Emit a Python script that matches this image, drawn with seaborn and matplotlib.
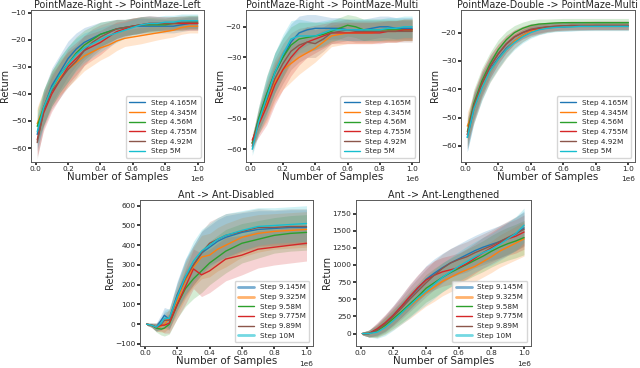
import numpy as np
import pandas as pd
import matplotlib
matplotlib.use("Agg")
import matplotlib.pyplot as plt
import seaborn as sns

# --- data (x in units of 1e6 samples) ---
X_PM = [0.01, 0.05, 0.1, 0.15, 0.2, 0.25, 0.3, 0.35, 0.4, 0.45, 0.5,
        0.55, 0.6, 0.65, 0.7, 0.75, 0.8, 0.85, 0.9, 0.95, 1.0]
X_AD = [0.01, 0.04, 0.07, 0.1, 0.12, 0.15, 0.2, 0.25, 0.3, 0.35, 0.4,
        0.45, 0.5, 0.6, 0.7, 0.8, 0.9, 1.0]

PM_LABELS = ["Step 4.165M", "Step 4.345M", "Step 4.56M", "Step 4.755M", "Step 4.92M", "Step 5M"]
ANT_LABELS = ["Step 9.145M", "Step 9.325M", "Step 9.58M", "Step 9.775M", "Step 9.89M", "Step 10M"]

# PointMaze-Right -> PointMaze-Left
rl_blue = [-55, -45, -37, -32, -27, -23.5, -21, -19.5, -18, -17, -16, -15.5, -15, -15, -15, -15, -15, -15, -14.5, -14, -14]
rl_orange = [-51, -45, -38, -34, -31, -28.5, -26, -24.5, -23, -22, -20.5, -19.5, -19, -18.5, -18, -17.5, -17, -16.5, -15.5, -15, -15]
rl_green = [-52, -45, -38, -33, -29, -25, -22, -20, -18, -17, -16, -15.5, -15, -14.5, -14.5, -14.5, -14.5, -14, -14, -13.5, -13.5]
rl_red = [-57, -47, -40, -35, -30, -27, -24, -22.5, -21, -19, -17, -16, -15, -14.5, -14, -14, -14, -14, -14, -14, -14]
rl_brown = [-58, -46, -39, -35, -31, -28, -24, -21, -19, -17.5, -16, -15.5, -15, -14.5, -14, -14, -14, -14, -13.5, -13.5, -13.5]
rl_cyan = [-54, -45, -38, -33, -29, -25.5, -23, -21.5, -20, -18.5, -17.5, -16.5, -15.5, -14.5, -14, -14, -13.5, -13.5, -13, -13, -13]
rl_std = [6, 6.5, 6.5, 6.5, 6.5, 6, 5.5, 5, 4.5, 4, 3.5, 3, 3, 3, 2.8, 2.6, 2.5, 2.5, 2.5, 2.5, 2.5]

# PointMaze-Right -> PointMaze-Multi
rm_blue = [-58, -50, -42, -35, -30, -25, -22, -21, -20.5, -20.5, -20.5, -20.5, -21, -21, -21, -20.5, -20, -20, -20.5, -20.5, -20.5]
rm_orange = [-58, -51, -45, -38, -34, -32, -30, -28.5, -27, -25, -23, -22.5, -22, -22, -22, -22, -21.5, -21.5, -21.5, -21, -21]
rm_green = [-58, -50, -42, -35, -30, -26, -24, -23.5, -23, -22.5, -21.5, -20.5, -19.5, -20, -21, -21, -21, -21, -21, -21, -21]
rm_red = [-57, -52, -46, -39, -34, -30, -27, -25, -24, -23, -22, -22, -22, -22, -22, -22, -22, -21.5, -21.5, -21, -21]
rm_brown = [-59, -51, -44, -37, -32, -28, -26, -25, -25.5, -24, -22, -21.5, -21, -21.5, -21.5, -21.5, -21.5, -21.5, -21.5, -21.5, -21.5]
rm_cyan = [-60, -51, -43, -35, -29, -24, -23, -23, -23, -22, -21, -21, -21, -21, -21, -21, -21, -20.5, -20.5, -20, -20]
rm_std = [2, 4, 6, 6.5, 6.5, 6, 5.5, 5, 4.5, 4, 3.5, 3.5, 3.5, 3.5, 3.5, 3.5, 3.5, 3.5, 3.5, 3.5, 3.5]

# PointMaze-Double -> PointMaze-Multi
dm_blue = [-57, -47, -39, -33, -29, -25.5, -23, -21, -19.5, -18.8, -18.3, -18, -18, -17.8, -17.7, -17.6, -17.5, -17.5, -17.5, -17.5, -17.5]
dm_orange = [-53, -47, -39, -33.5, -29.5, -26, -23, -21, -19.5, -18.8, -18.3, -18, -17.8, -17.7, -17.6, -17.5, -17.5, -17.5, -17.5, -17.5, -17.5]
dm_green = [-55, -45, -37, -31, -26, -22.5, -20, -18.5, -17.5, -17, -16.8, -16.6, -16.5, -16.5, -16.5, -16.5, -16.5, -16.5, -16.5, -16.5, -16.5]
dm_red = [-56, -46, -38, -32, -27.5, -24, -21.5, -20, -19, -18.5, -18, -17.8, -17.6, -17.5, -17.5, -17.5, -17.5, -17.5, -17.5, -17.5, -17.5]
dm_brown = [-56, -46, -38, -32, -27.5, -24, -21.5, -20, -18.8, -18.3, -18, -17.8, -17.6, -17.5, -17.5, -17.5, -17.5, -17.5, -17.5, -17.5, -17.5]
dm_cyan = [-57, -47, -39.5, -33.5, -29.5, -26, -23.5, -21.5, -20, -19, -18.5, -18.2, -18, -18, -17.8, -17.8, -17.8, -17.8, -17.8, -17.8, -17.8]
dm_std = [5, 5, 4.5, 4, 3.5, 3, 2.5, 2.2, 2, 1.8, 1.6, 1.5, 1.5, 1.5, 1.5, 1.5, 1.5, 1.5, 1.5, 1.5, 1.5]

# Ant -> Ant-Disabled
ad_blue = [0, -5, -15, 20, 45, 25, 150, 240, 300, 360, 390, 420, 440, 465, 480, 485, 490, 490]
ad_orange = [0, -5, -15, -10, 0, 30, 120, 220, 290, 340, 350, 380, 400, 440, 460, 470, 475, 480]
ad_green = [0, -5, -20, -25, -20, 0, 100, 180, 230, 270, 310, 340, 370, 410, 430, 450, 460, 465]
ad_red = [0, -5, -15, -5, -5, 5, 100, 190, 280, 250, 270, 300, 330, 350, 380, 390, 400, 410]
ad_brown = [0, -5, -15, 0, 20, 20, 140, 230, 300, 360, 410, 430, 450, 470, 490, 490, 495, 495]
ad_cyan = [0, -5, -15, 5, 30, 30, 140, 240, 320, 370, 400, 430, 450, 475, 495, 500, 505, 510]
ad_std = [5, 10, 20, 30, 40, 50, 70, 90, 100, 110, 110, 110, 110, 100, 95, 90, 90, 90]

# Ant -> Ant-Lengthened
al_blue = [0, 0, 60, 150, 270, 400, 530, 660, 790, 880, 960, 1030, 1090, 1150, 1210, 1260, 1300, 1340, 1390, 1450, 1540]
al_orange = [0, 0, 30, 110, 200, 300, 400, 500, 600, 680, 760, 820, 880, 930, 980, 1050, 1120, 1200, 1260, 1320, 1380]
al_green = [0, 0, 40, 120, 220, 320, 430, 540, 660, 740, 820, 890, 950, 1010, 1070, 1130, 1200, 1260, 1310, 1350, 1400]
al_red = [0, 0, 70, 160, 270, 400, 540, 670, 780, 850, 900, 930, 960, 1020, 1100, 1180, 1250, 1320, 1380, 1420, 1480]
al_brown = [0, 0, 50, 140, 250, 370, 500, 620, 740, 850, 950, 1030, 1080, 1120, 1180, 1230, 1280, 1340, 1400, 1460, 1520]
al_cyan = [0, 0, 20, 90, 190, 300, 410, 520, 620, 720, 820, 900, 980, 1050, 1120, 1180, 1230, 1300, 1380, 1460, 1580]
al_std = [20, 50, 90, 120, 140, 160, 180, 190, 200, 210, 210, 210, 215, 220, 220, 225, 230, 235, 240, 245, 250]

COLORS = ["#1f77b4", "#ff7f0e", "#2ca02c", "#d62728", "#8c564b", "#17becf"]

sns.set_theme(style="ticks")
plt.rcParams["font.family"] = ["DejaVu Sans"]

fig = plt.figure(figsize=(6.4, 3.68), dpi=100)

panels = [
    ("PointMaze-Right -> PointMaze-Left", X_PM, [rl_blue, rl_orange, rl_green, rl_red, rl_brown, rl_cyan], rl_std,
     PM_LABELS, (-65, -9), [0.048, 0.561, 0.271, 0.412]),
    ("PointMaze-Right -> PointMaze-Multi", X_PM, [rm_blue, rm_orange, rm_green, rm_red, rm_brown, rm_cyan], rm_std,
     PM_LABELS, (-64, -14.5), [0.384, 0.561, 0.270, 0.412]),
    ("PointMaze-Double -> PointMaze-Multi", X_PM, [dm_blue, dm_orange, dm_green, dm_red, dm_brown, dm_cyan], dm_std,
     PM_LABELS, (-65.5, -12), [0.720, 0.561, 0.272, 0.412]),
    ("Ant -> Ant-Disabled", X_AD, [ad_blue, ad_orange, ad_green, ad_red, ad_brown, ad_cyan], ad_std,
     ANT_LABELS, (-110, 630), [0.219, 0.06, 0.270, 0.397]),
    ("Ant -> Ant-Lengthened", X_PM, [al_blue, al_orange, al_green, al_red, al_brown, al_cyan], al_std,
     ANT_LABELS, (-180, 1950), [0.556, 0.06, 0.273, 0.397]),
]

for title, xs, series, std, labels, ylim, pos in panels:
    ax = fig.add_axes(pos)
    x = np.array(xs) * 1e6
    rows = []
    for lab, ys in zip(labels, series):
        for xi, yi in zip(x, ys):
            rows.append({"x": xi, "y": yi, "run": lab})
    df = pd.DataFrame(rows)
    sns.lineplot(data=df, x="x", y="y", hue="run", palette=COLORS, linewidth=1.0, ax=ax)
    for c, ys in zip(COLORS, series):
        ys = np.array(ys, dtype=float)
        ax.fill_between(x, ys - np.array(std), ys + np.array(std), color=c, alpha=0.2, linewidth=0)
    ax.set_xlim(-0.03e6, 1.04e6)
    ax.set_ylim(*ylim)
    ax.set_title(title, fontsize=6.9, pad=1.5)
    ax.set_xlabel("Number of Samples", fontsize=7.4, labelpad=0)
    ax.set_ylabel("Return", fontsize=7.2, labelpad=0.5)
    ax.tick_params(labelsize=5.3, length=2, pad=1.2)
    ax.xaxis.get_offset_text().set_fontsize(5.3)
    for sp in ax.spines.values():
        sp.set_color("0.35")
        sp.set_linewidth(0.7)
    leg = ax.legend(loc="lower right", fontsize=5.2, handlelength=2.2, borderpad=0.5,
                    labelspacing=0.5, handletextpad=0.8, frameon=True)
    if labels is ANT_LABELS:
        for i in (0, 1, 5):
            leg.get_lines()[i].set_linewidth(2.0)
            leg.get_lines()[i].set_alpha(0.6)

fig.savefig("out.png", dpi=100)
